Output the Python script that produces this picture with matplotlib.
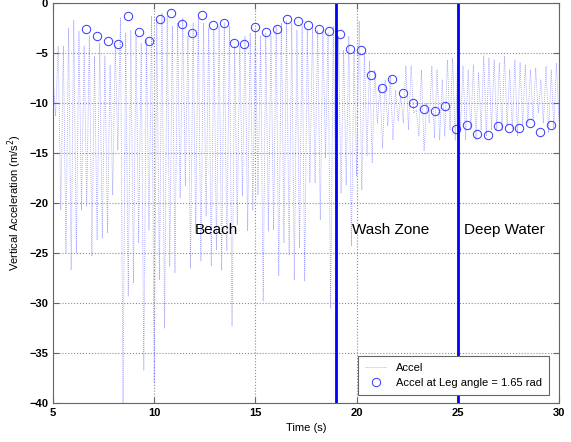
import numpy as np
import matplotlib
matplotlib.use("Agg")
import matplotlib.pyplot as plt

plt.rcParams['font.family'] = ['Liberation Sans', 'DejaVu Sans']

accel_peaks = [-7.3, -4.3,
               -4.3, -2.5, -1.7, -2.8, -4.3, -3.3, -5.3, -4.0, -5.3, -6.2, -4.3, -1.5,
               -3.0, -2.7, -3.3, -4.0, -3.7, -1.3, -1.7, -1.0, -1.3, -2.3, -2.0, -1.5,
               -3.3, -2.0, -1.5, -2.0, -2.5, -2.7, -2.3, -2.0, -2.3, -4.3, -4.3, -3.3,
               -3.0, -2.7, -3.3, -3.0, -3.3, -2.3, -2.0, -1.8, -2.0, -2.7, -2.3, -2.7,
               -2.3, -2.7, -2.7, -3.0, -2.3, -3.3, -4.7, -3.3, -4.8, -1.8, -5.0, -5.8,
               -6.7, -8.3, -7.7, -7.3, -8.7, -9.3, -6.3, -6.3, -10.7, -6.7, -10.0, -6.3,
               -6.7, -7.7, -5.7, -5.5, -6.0, -6.3, -6.7, -6.2, -7.0, -5.3, -5.5, -5.7,
               -6.0, -5.3, -6.7, -5.7, -6.0, -6.2, -6.7, -6.5, -7.7, -6.3, -6.7, -6.0]
accel_troughs = [-11.3, -20.7,
                 -25.0, -26.7, -25.0, -20.7, -20.3, -25.3, -23.7, -23.5, -23.0, -19.2, -14.7, -40.0,
                 -29.3, -28.0, -24.0, -36.7, -22.7, -38.0, -27.7, -32.5, -26.3, -27.0, -19.5, -18.3,
                 -26.5, -23.0, -25.8, -21.3, -26.3, -24.7, -26.7, -24.8, -32.3, -22.2, -19.3, -22.8,
                 -20.7, -19.2, -29.8, -22.8, -22.7, -27.3, -24.0, -25.2, -27.7, -24.5, -27.8, -18.0,
                 -18.0, -21.7, -15.5, -30.5, -20.3, -19.0, -18.2, -24.3, -17.3, -18.7, -15.3, -16.0,
                 -12.0, -14.5, -12.3, -13.7, -11.8, -12.0, -12.7, -11.0, -13.3, -14.8, -12.0, -13.5,
                 -13.7, -13.3, -12.7, -13.7, -12.7, -13.7, -12.7, -13.7, -12.7, -13.3, -12.7, -12.7,
                 -12.8, -12.3, -12.7, -13.3, -12.3, -12.0, -11.7, -11.0, -12.0, -13.0, -12.5, -11.8]

# samples at leg angle = 1.65 rad
leg_t = [6.63, 7.17, 7.72, 8.21, 8.71, 9.25, 9.74, 10.29, 10.83, 11.37, 11.87, 12.36,
         12.91, 13.45, 13.94, 14.44, 14.98, 15.52, 16.07, 16.56, 17.10, 17.60, 18.14,
         18.64, 19.18, 19.67, 20.22, 20.71, 21.25, 21.75, 22.29, 22.79, 23.33, 23.87,
         24.37, 24.91, 25.45, 25.95, 26.49, 26.99, 27.53, 28.02, 28.57, 29.06, 29.60]
leg_acc = [-2.6, -3.3, -3.8, -4.1, -1.3, -2.9, -3.8, -1.6, -1.0, -2.1, -3.0, -1.2,
           -2.2, -2.0, -4.0, -4.1, -2.4, -2.9, -2.6, -1.6, -1.8, -2.2, -2.6, -2.8,
           -3.1, -4.6, -4.7, -7.2, -8.5, -7.6, -9.0, -10.0, -10.6, -10.8, -10.3,
           -12.6, -12.2, -13.1, -13.2, -12.3, -12.5, -12.5, -12.0, -12.9, -12.2]

zone_edges = [19, 25]
zone_names = ["Beach", "Wash Zone", "Deep Water"]
zone_text_x = [12.0, 19.75, 25.3]

accel = np.empty(2 * len(accel_peaks))
accel[0::2] = accel_peaks
accel[1::2] = accel_troughs
t = np.linspace(5.0, 30.0, len(accel))

fig = plt.figure(figsize=(5.71, 4.42), dpi=100)
ax = fig.add_axes([0.0928, 0.0882, 0.8862, 0.905])

ax.plot(t, accel, ':', color=(0.5, 0.5, 1.0), lw=0.55, label='Accel')
ax.plot(leg_t, leg_acc, 'o', ms=6, mfc='none', mec=(0.25, 0.25, 1.0), mew=0.75,
        label='Accel at Leg angle = 1.65 rad')
for xe in zone_edges:
    ax.axvline(xe, color='blue', lw=2)
for name, xt in zip(zone_names, zone_text_x):
    ax.text(xt, -22.7, name, fontsize=11, va='center', ha='left')

ax.set_xlim(5, 30)
ax.set_ylim(-40, 0)
ax.set_xticks(range(5, 31, 5))
ax.set_yticks(range(-40, 1, 5))
ax.grid(True, ls=':', color='0.55', lw=0.8)
ax.tick_params(direction='in', top=True, right=True, labelsize=8, length=4, color='0.4')
for lab in ax.get_xticklabels() + ax.get_yticklabels():
    lab.set_fontweight('bold')
for s in ax.spines.values():
    s.set_color('0.4')
ax.set_xlabel('Time (s)', fontsize=8)
ax.set_ylabel('Vertical Acceleration (m/s$^2$)', fontsize=8)

leg = ax.legend(loc='lower right', bbox_to_anchor=(0.98, 0.02), borderaxespad=0,
                fontsize=8, fancybox=False, framealpha=1, edgecolor='0.4',
                borderpad=0.6)
leg.get_frame().set_linewidth(0.8)

fig.savefig('out.png', dpi=100)
